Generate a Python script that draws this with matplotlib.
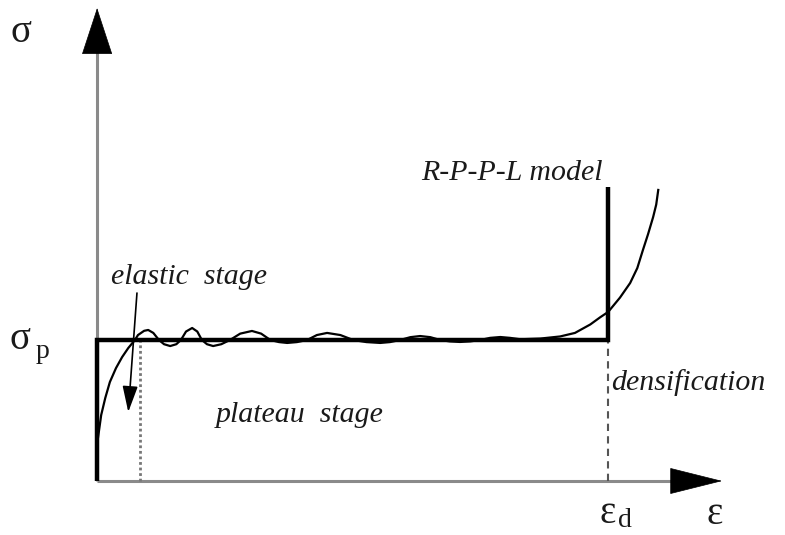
import matplotlib.pyplot as plt

# strain in units of eps_d, stress in units of sigma_p
eps_d = 1.0
sigma_p = 1.0
eps_elastic = 0.084

# schematic stress-strain curve: elastic rise, wavy plateau, densification
strain = [0.002, 0.008, 0.016, 0.025, 0.037, 0.049, 0.061, 0.074,
          0.080, 0.092, 0.100, 0.110, 0.121,
          0.131, 0.143, 0.155, 0.164,
          0.174, 0.186, 0.196, 0.205,
          0.215, 0.227, 0.243, 0.260,
          0.280, 0.303, 0.321, 0.339,
          0.356, 0.372, 0.391, 0.411,
          0.430, 0.450, 0.476, 0.501,
          0.527, 0.554, 0.573, 0.593,
          0.613, 0.632, 0.652, 0.671,
          0.690, 0.710, 0.730, 0.750,
          0.769, 0.789, 0.808, 0.828,
          0.867, 0.906, 0.935, 0.965, 0.984, 1.000,
          1.023, 1.043, 1.057, 1.068, 1.078, 1.088, 1.094, 1.098]
stress = [0.312, 0.468, 0.589, 0.702, 0.801, 0.879, 0.943, 1.000,
          1.035, 1.065, 1.071, 1.050, 1.000,
          0.970, 0.957, 0.970, 1.000,
          1.060, 1.085, 1.060, 1.000,
          0.970, 0.957, 0.970, 1.000,
          1.045, 1.064, 1.045, 1.000,
          0.985, 0.979, 0.985, 1.000,
          1.035, 1.050, 1.035, 1.000,
          0.985, 0.979, 0.985, 1.000,
          1.020, 1.028, 1.020, 1.000,
          0.990, 0.986, 0.990, 1.000,
          1.015, 1.021, 1.015, 1.005,
          1.010, 1.025, 1.050, 1.110, 1.160, 1.199,
          1.300, 1.404, 1.510, 1.638, 1.750, 1.872, 1.960, 2.064]

# rigid - perfectly plastic - locking idealisation
rppl_strain = [0.0, 0.0, eps_d, eps_d]
rppl_stress = [0.0, sigma_p, sigma_p, 2.085]

x_end = 1.223
y_end = 3.354

fig = plt.figure(figsize=(7.85, 5.35), dpi=100)
ax = fig.add_axes([0, 0, 1, 1])
ax.set_xlim(-0.190, 1.346)
ax.set_ylim(-0.383, 3.411)
ax.axis('off')

serif = 'Liberation Serif'

# axes with arrow heads
ax.plot([0, x_end - 0.09], [0, 0], color='#8a8a8a', lw=2.2, solid_capstyle='butt')
ax.plot([0, 0], [0, y_end - 0.3], color='#8a8a8a', lw=2.2, solid_capstyle='butt')
ax.annotate('', xy=(x_end, 0), xytext=(x_end - 0.098, 0),
            arrowprops=dict(arrowstyle='-|>,head_length=36,head_width=9',
                            mutation_scale=1, color='black', lw=0.5,
                            shrinkA=0, shrinkB=0))
ax.annotate('', xy=(0, y_end), xytext=(0, y_end - 0.32),
            arrowprops=dict(arrowstyle='-|>,head_length=32,head_width=10.5',
                            mutation_scale=1, color='black', lw=0.5,
                            shrinkA=0, shrinkB=0))

# guide lines
ax.plot([eps_elastic, eps_elastic], [0, sigma_p], color='#777777', lw=2,
        linestyle=(0, (1, 1)))
ax.plot([eps_d, eps_d], [0, sigma_p], color='#555555', lw=1.5,
        linestyle=(0, (3.5, 2.5)))

ax.plot(rppl_strain, rppl_stress, color='black', lw=3.2,
        solid_joinstyle='miter', solid_capstyle='butt')
ax.plot(strain, stress, color='black', lw=1.6, solid_joinstyle='round')

# arrow to the elastic part
ax.annotate('', xy=(0.061, 0.489), xytext=(0.078, 1.333),
            arrowprops=dict(arrowstyle='-|>,head_length=16,head_width=4.7',
                            mutation_scale=1, color='black', lw=1.2,
                            shrinkA=0, shrinkB=0))

lab = dict(family=serif, style='italic', fontsize=21.5, color='#1a1a1a')
ax.text(0.180, 1.447, 'elastic  stage', ha='center', va='center', **lab)
ax.text(0.397, 0.468, 'plateau  stage', ha='center', va='center', **lab)
ax.text(0.812, 2.184, 'R-P-P-L model', ha='center', va='center', **lab)
ax.text(1.006, 0.695, 'densification', ha='left', va='center', **lab)

sym = dict(family=serif, color='#1a1a1a')
ax.text(-0.148, 3.180, 'σ', ha='center', va='center', fontsize=28, **sym)
ax.text(-0.150, 1.0, 'σ', ha='center', va='center', fontsize=28, **sym)
ax.text(-0.106, 0.915, 'p', ha='center', va='center', fontsize=20, **sym)
ax.text(0.998, -0.227, 'ε', ha='center', va='center', fontsize=28, **sym)
ax.text(1.033, -0.277, 'd', ha='center', va='center', fontsize=20, **sym)
ax.text(1.208, -0.235, 'ε', ha='center', va='center', fontsize=28, **sym)

fig.savefig('out.png', dpi=100)
